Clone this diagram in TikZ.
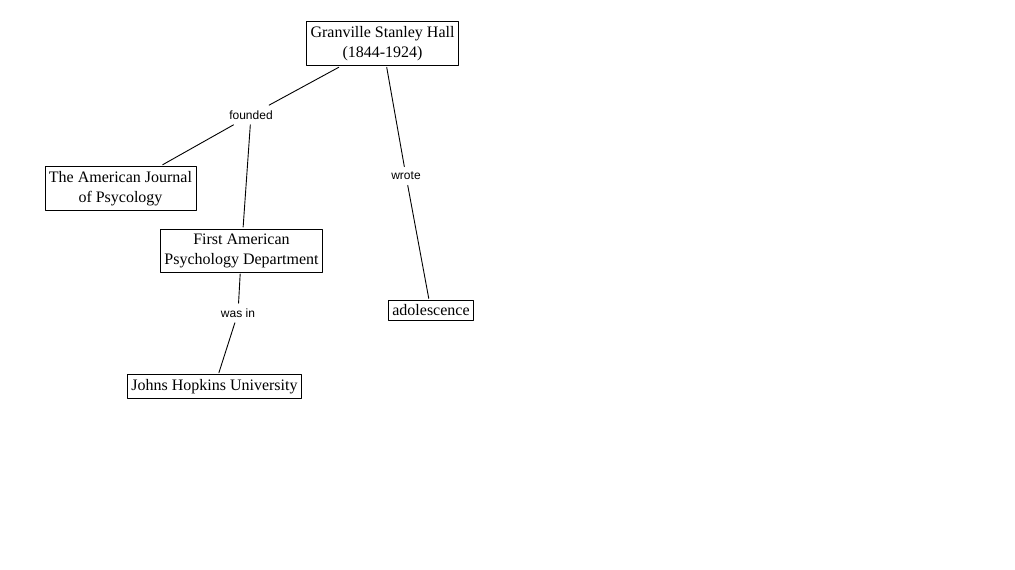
\documentclass[tikz,border=0pt]{standalone}
\usepackage{fontspec}
\setmainfont{Liberation Serif}
\newfontfamily\lblfont{Liberation Sans}
\tikzset{
  cbox/.style={rectangle,draw,fill=white,inner xsep=4pt,inner ysep=4.5pt,
               align=center,outer sep=2pt,font=\fontsize{16}{20}\selectfont},
  lbl/.style={inner xsep=3pt,inner ysep=5pt,font=\lblfont\fontsize{12}{14}\selectfont},
  every picture/.style={line cap=round,line join=round}}
\begin{document}
\begin{tikzpicture}[x=1pt,y=-1pt,line width=0.9pt]
  \useasboundingbox (0,0) rectangle (1015,570);
  \node[cbox] (gsh) at (382.5,43.5){Granville Stanley Hall\\(1844-1924)};
  \node[cbox] (ajp) at (120.5,188.5){The American Journal\\of Psycology};
  \node[cbox] (fapd) at (241.5,250.5){First American\\Psychology Department};
  \node[cbox] (ado) at (431,310.5){adolescence};
  \node[cbox] (jhu) at (214.5,386.5){Johns Hopkins University};
  \node[lbl] (fnd) at (251,115){founded};
  \node[lbl] (wrt) at (406,176){wrote};
  \node[lbl] (wsn) at (238,313){was in};
  \draw (gsh)--(fnd) (fnd)--(ajp) (fnd)--(fapd);
  \draw (gsh)--(wrt) (wrt)--(ado);
  \draw (fapd)--(wsn) (wsn)--(jhu);
\end{tikzpicture}
\end{document}
